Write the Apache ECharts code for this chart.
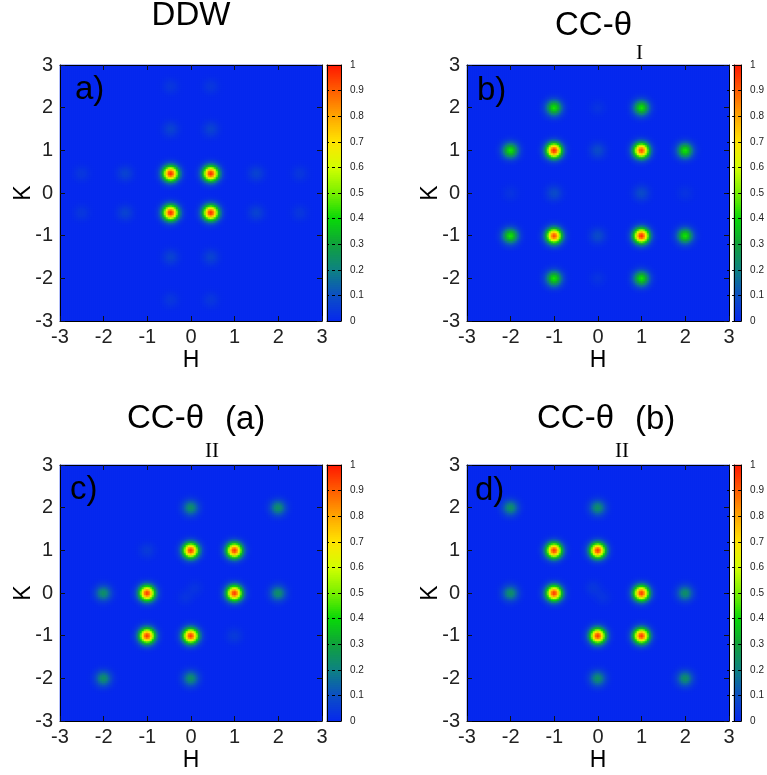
<!DOCTYPE html>
<html><head><meta charset="utf-8">
<script src="https://cdn.jsdelivr.net/npm/echarts@6/dist/echarts.min.js"></script>
<style>html,body{margin:0;padding:0;background:#fff}#c{width:767px;height:775px}</style>
</head><body><div id="c"></div>
<script>
// ---- Data: diffraction spots [H, K, peak intensity] ----
const peaksDDW = [
  [-0.46, 0.46, 0.97], [0.46, 0.46, 0.97], [-0.46, -0.46, 0.97], [0.46, -0.46, 0.97],
  [-1.5, 0.46, 0.07], [1.5, 0.46, 0.07], [-1.5, -0.46, 0.07], [1.5, -0.46, 0.07],
  [-0.46, 1.5, 0.07], [0.46, 1.5, 0.07], [-0.46, -1.5, 0.07], [0.46, -1.5, 0.07],
  [-2.5, 0.46, 0.04], [2.5, 0.46, 0.04], [-2.5, -0.46, 0.04], [2.5, -0.46, 0.04],
  [-0.46, 2.5, 0.04], [0.46, 2.5, 0.04], [-0.46, -2.5, 0.04], [0.46, -2.5, 0.04]
];
const peaksCCI = [
  [-1, 1, 0.97], [1, 1, 0.92], [-1, -1, 0.92], [1, -1, 0.97],
  [-1, 2, 0.42], [1, 2, 0.42], [-1, -2, 0.42], [1, -2, 0.42],
  [-2, 1, 0.42], [2, 1, 0.42], [-2, -1, 0.42], [2, -1, 0.42],
  [0, 1, 0.09], [0, -1, 0.09], [-1, 0, 0.09], [1, 0, 0.09],
  [0, 2, 0.03], [0, -2, 0.03], [-2, 0, 0.03], [2, 0, 0.03]
];
const peaksCCIIa = [
  [0, 1, 0.95], [1, 1, 0.95], [-1, 0, 0.95], [1, 0, 0.95], [-1, -1, 0.95], [0, -1, 0.95],
  [0, 2, 0.24], [2, 2, 0.24], [-2, 0, 0.24], [2, 0, 0.24], [-2, -2, 0.24], [0, -2, 0.24],
  [-1, 1, 0.05], [1, -1, 0.05], [-0.12, -0.1, 0.03], [0.1, 0.12, 0.03]
];
const peaksCCIIb = [
  [-1, 1, 0.95], [0, 1, 0.95], [-1, 0, 0.95], [1, 0, 0.95], [0, -1, 0.95], [1, -1, 0.95],
  [-2, 2, 0.24], [0, 2, 0.24], [-2, 0, 0.24], [2, 0, 0.24], [0, -2, 0.24], [2, -2, 0.24],
  [-0.1, 0.12, 0.04], [0.12, -0.1, 0.03]
];
const spotSigma = 0.125;          // spot width (r.l.u.)
const axisRange = [-3, 3];
const axisStep = 1;
const colorbarRange = [0, 1];
const colorbarStep = 0.1;
const palette = ['#0628ee', '#0c4fc4', '#0e8282', '#10a23c', '#08d808', '#78f000',
                 '#d2ff00', '#ffe400', '#ffa600', '#ff5e00', '#ff1800'];

// ---- layout / style ----
const FONT = '"Liberation Sans", Arial, sans-serif';
const SERIF = '"Liberation Serif", "Times New Roman", serif';
const NX = 131, NY = 128;           // cells (2px each)
const PW = 262, PH = 256;
const panels = [
  { peaks: peaksDDW,   left: 60,  top: 65 },
  { peaks: peaksCCI,   left: 467, top: 65 },
  { peaks: peaksCCIIa, left: 60,  top: 465 },
  { peaks: peaksCCIIb, left: 467, top: 465 }
];

const span = axisRange[1] - axisRange[0];
const hVals = Array.from({length: NX}, (_, i) => axisRange[0] + (i + 0.5) * span / NX);
const kVals = Array.from({length: NY}, (_, j) => axisRange[0] + (j + 0.5) * span / NY);
const cbVals = Array.from({length: NY}, (_, j) => colorbarRange[0] + (j + 0.5) * (colorbarRange[1] - colorbarRange[0]) / NY);

function field(peaks) {
  const out = [];
  const s2 = 2 * spotSigma * spotSigma;
  for (let i = 0; i < NX; i++) {
    for (let j = 0; j < NY; j++) {
      let v = 0;
      for (const p of peaks) {
        const dh = hVals[i] - p[0], dk = kVals[j] - p[1];
        v += p[2] * Math.exp(-(dh * dh + dk * dk) / s2);
      }
      out.push([i, j, Math.min(1, v)]);
    }
  }
  return out;
}

const grid = [], xAxis = [], yAxis = [], series = [];
const frameLine = { show: true, onZero: false, lineStyle: { color: '#000', width: 1 } };
const tickIn = { show: true, inside: true, length: 5, lineStyle: { color: '#111', width: 1 } };

panels.forEach((P, p) => {
  const gMain = grid.length;
  grid.push({ left: P.left, top: P.top, width: PW, height: PH });
  const gBar = grid.length;
  grid.push({ left: P.left + 267, top: P.top, width: 14, height: PH });

  // main heatmap axes (hidden categories)
  const xc = xAxis.length;
  xAxis.push({ type: 'category', gridIndex: gMain, data: hVals.map((_, i) => i), show: false });
  const yc = yAxis.length;
  yAxis.push({ type: 'category', gridIndex: gMain, data: kVals.map((_, j) => j), show: false });
  // value axes for ticks/labels/frame
  const valBase = { type: 'value', gridIndex: gMain, min: axisRange[0], max: axisRange[1], interval: axisStep,
                    splitLine: { show: false }, axisLine: frameLine, axisTick: tickIn, z: 10 };
  xAxis.push(Object.assign({}, valBase, { position: 'bottom',
    axisLabel: { fontSize: 20, margin: 6, color: '#222', fontFamily: FONT },
    name: 'H', nameLocation: 'middle', nameGap: 28, nameMoveOverlap: false,
    nameTextStyle: { fontSize: 23, color: '#000', fontFamily: FONT } }));
  xAxis.push(Object.assign({}, valBase, { position: 'top', axisLabel: { show: false } }));
  yAxis.push(Object.assign({}, valBase, { position: 'left',
    axisLabel: { fontSize: 20, margin: 7, color: '#222', fontFamily: FONT },
    name: 'K', nameLocation: 'middle', nameGap: 25, nameMoveOverlap: false,
    nameTextStyle: { fontSize: 23, color: '#000', fontFamily: FONT } }));
  yAxis.push(Object.assign({}, valBase, { position: 'right', axisLabel: { show: false } }));

  series.push({ type: 'heatmap', xAxisIndex: xc, yAxisIndex: yc, data: field(P.peaks),
                progressive: 0, silent: true, emphasis: { disabled: true } });

  // colorbar
  const xb = xAxis.length;
  xAxis.push({ type: 'category', gridIndex: gBar, data: [0], show: false });
  const yb = yAxis.length;
  yAxis.push({ type: 'category', gridIndex: gBar, data: cbVals.map((_, j) => j), show: false });
  const cbBase = { type: 'value', gridIndex: gBar, min: colorbarRange[0], max: colorbarRange[1],
                   splitLine: { show: false }, axisLine: frameLine, axisTick: { show: false },
                   axisLabel: { show: false }, z: 10 };
  xAxis.push(Object.assign({}, cbBase, { position: 'bottom' }));
  xAxis.push(Object.assign({}, cbBase, { position: 'top' }));
  yAxis.push(Object.assign({}, cbBase, { position: 'left' }));
  yAxis.push(Object.assign({}, cbBase, { position: 'right', interval: colorbarStep,
    axisTick: { show: true, inside: true, length: 14, lineStyle: { color: '#000', width: 1, type: [3, 3] } },
    axisLabel: { show: true, fontSize: 10, margin: 9, color: '#222', fontFamily: FONT,
                 formatter: v => String(+v.toFixed(1)) } }));
  series.push({ type: 'heatmap', xAxisIndex: xb, yAxisIndex: yb,
                data: cbVals.map((v, j) => [0, j, v]), progressive: 0, silent: true,
                emphasis: { disabled: true } });
});

function txt(text, x, y, size, family, align) {
  return { type: 'text', x: x, y: y, z: 100, silent: true,
           style: { text: text, font: size + 'px ' + family, fill: '#000',
                    textAlign: align || 'left', textVerticalAlign: 'middle' } };
}

const graphics = [
  txt('DDW', 191, 16, 33, FONT, 'center'),
  txt('CC-θ', 555, 26, 33, FONT), txt('I', 636, 53, 21, SERIF),
  txt('CC-θ', 127, 419, 33, FONT), txt('II', 205, 451, 21, SERIF), txt('(a)', 225, 420, 33, FONT),
  txt('CC-θ', 537, 419, 33, FONT), txt('II', 615, 451, 21, SERIF), txt('(b)', 635, 420, 33, FONT),
  txt('a)', 75, 90, 33, FONT), txt('b)', 477, 91, 33, FONT),
  txt('c)', 70, 490, 33, FONT), txt('d)', 475, 491, 33, FONT)
];

const chart = echarts.init(document.getElementById('c'), null, { renderer: 'canvas' });
chart.setOption({
  animation: false,
  backgroundColor: '#fff',
  grid: grid, xAxis: xAxis, yAxis: yAxis, series: series,
  visualMap: { type: 'continuous', show: false, min: colorbarRange[0], max: colorbarRange[1],
               seriesIndex: series.map((_, i) => i), inRange: { color: palette } },
  graphic: graphics
});
</script></body></html>
